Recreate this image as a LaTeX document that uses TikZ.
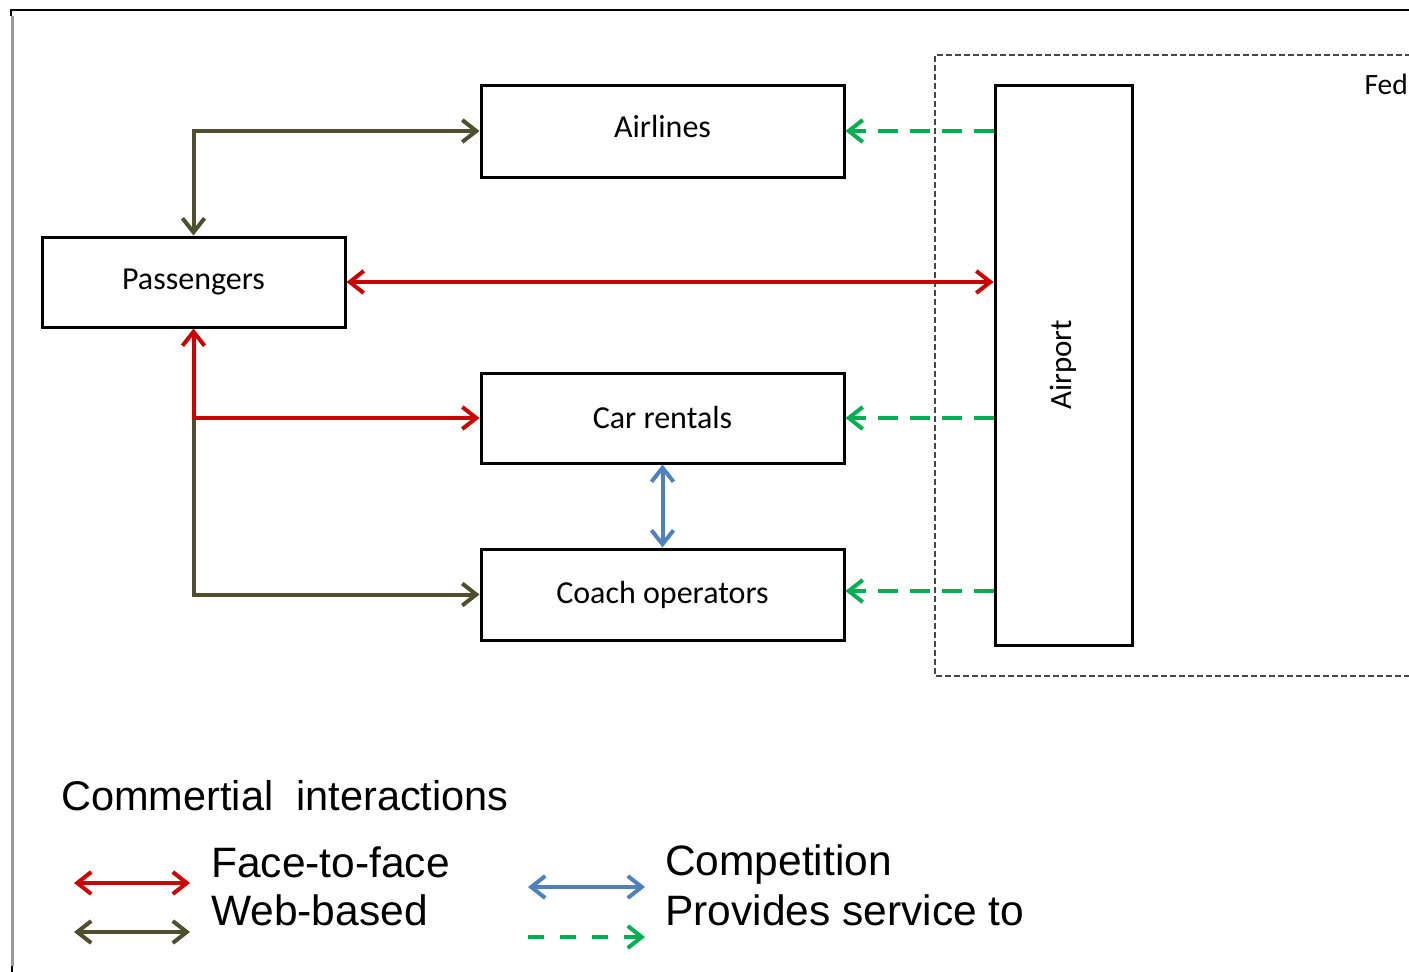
\documentclass[tikz,border=0pt]{standalone}
\usepackage{fontspec}
\setmainfont{Carlito}
\newfontfamily\legfont{Liberation Sans}
\usetikzlibrary{arrows.meta}
\definecolor{cred}{RGB}{204,0,0}
\definecolor{cbrown}{RGB}{79,79,47}
\definecolor{cblue}{RGB}{79,129,189}
\definecolor{cgreen}{RGB}{0,176,80}
\definecolor{cgray}{RGB}{70,70,70}
\tikzset{
  mytip/.tip={Straight Barb[length=14pt,width=22pt]},
  boxfont/.style={font=\fontsize{32}{38}\selectfont},
  box/.style={draw=black, line width=3pt, inner sep=0pt, boxfont},
  redline/.style={draw=cred, line width=4pt, mytip-mytip},
  brownline/.style={draw=cbrown, line width=4pt},
  blueline/.style={draw=cblue, line width=4pt, mytip-mytip},
  greenline/.style={draw=cgreen, line width=4pt, dash pattern=on 20pt off 12pt, -mytip},
  legtext/.style={font=\legfont\fontsize{42.5}{50}\selectfont, anchor=west, inner sep=0pt},
}
\begin{document}
\begin{tikzpicture}[x=1pt,y=-1pt]
\useasboundingbox (0,0) rectangle (1409,972);
\clip (0,0) rectangle (1409,972);
% frame
\draw[black, line width=2.5pt] (10,10) -- (1420,10);
\draw[black, line width=2.5pt] (11,9) -- (11,16);
\draw[gray!80, line width=3pt] (12,16) -- (12,966);
\draw[black, line width=2.5pt] (12,966) -- (12,975);
% federal region
\draw[cgray, line width=2.5pt, dash pattern=on 6pt off 3pt] (1420,55) -- (935,55) -- (935,676) -- (1420,676);
\node[anchor=east, inner sep=0pt, font=\fontsize{29.5}{36}\selectfont] (fed) at (1408,84) {Fed};
% boxes
\node[box, minimum width=363pt, minimum height=92pt] (air) at (662.5,131) {};
\node[boxfont] (airlbl) at (662.5,127) {Airlines};
\node[box, minimum width=303pt, minimum height=90pt] (pas) at (193.5,282) {Passengers};
\node[box, minimum width=363pt, minimum height=90pt] (car) at (662.5,418) {Car rentals};
\node[box, minimum width=363pt, minimum height=91pt] (coach) at (662.5,594.5) {Coach operators};
\node[box, minimum width=137pt, minimum height=560pt] (port) at (1063.5,365) {};
\node[rotate=90, font=\fontsize{31}{36}\selectfont] (portlbl) at (port.center) {Airport};
% connectors
\draw[brownline, mytip-mytip] (air.west) -- (pas.north |- air.west) -- (pas.north);
\coordinate (jn) at (pas.south |- car.west);
\draw[brownline, -mytip] (jn) -- (jn |- coach.west) -- (coach.west);
\draw[redline] (pas.south) -- (jn) -- (car.west);
\draw[redline] (pas.east) -- (pas.east -| port.west);
\draw[blueline] (car.south) -- (coach.north);
\draw[greenline] (port.west |- air.west) -- (air.east);
\draw[greenline] (port.west |- car.east) -- (car.east);
\draw[greenline] (port.west |- 0,591) -- (coach.east |- 0,591);
% legend
\node[legtext, font=\legfont\fontsize{41.5}{50}\selectfont] (legtitle) at (61,796) {Commertial\ \ interactions};
\coordinate (r1a) at (74,883); \coordinate (r1b) at (190,883);
\draw[redline] (r1a) -- (r1b);
\coordinate (b1a) at (74,932); \coordinate (b1b) at (190,932);
\draw[brownline, mytip-mytip] (b1a) -- (b1b);
\node[legtext] (l1) at (211,862) {Face-to-face};
\node[legtext] (l2) at (211,910) {Web-based};
\coordinate (c1a) at (528,887); \coordinate (c1b) at (645,887);
\draw[blueline] (c1a) -- (c1b);
\coordinate (g1a) at (528,937); \coordinate (g1b) at (645,937);
\draw[greenline, dash pattern=on 16pt off 16pt] (g1a) -- (g1b);
\node[legtext] (l3) at (665,865) {Competition};
\node[legtext] (l4) at (665,910) {Provides service to};
\end{tikzpicture}
\end{document}
